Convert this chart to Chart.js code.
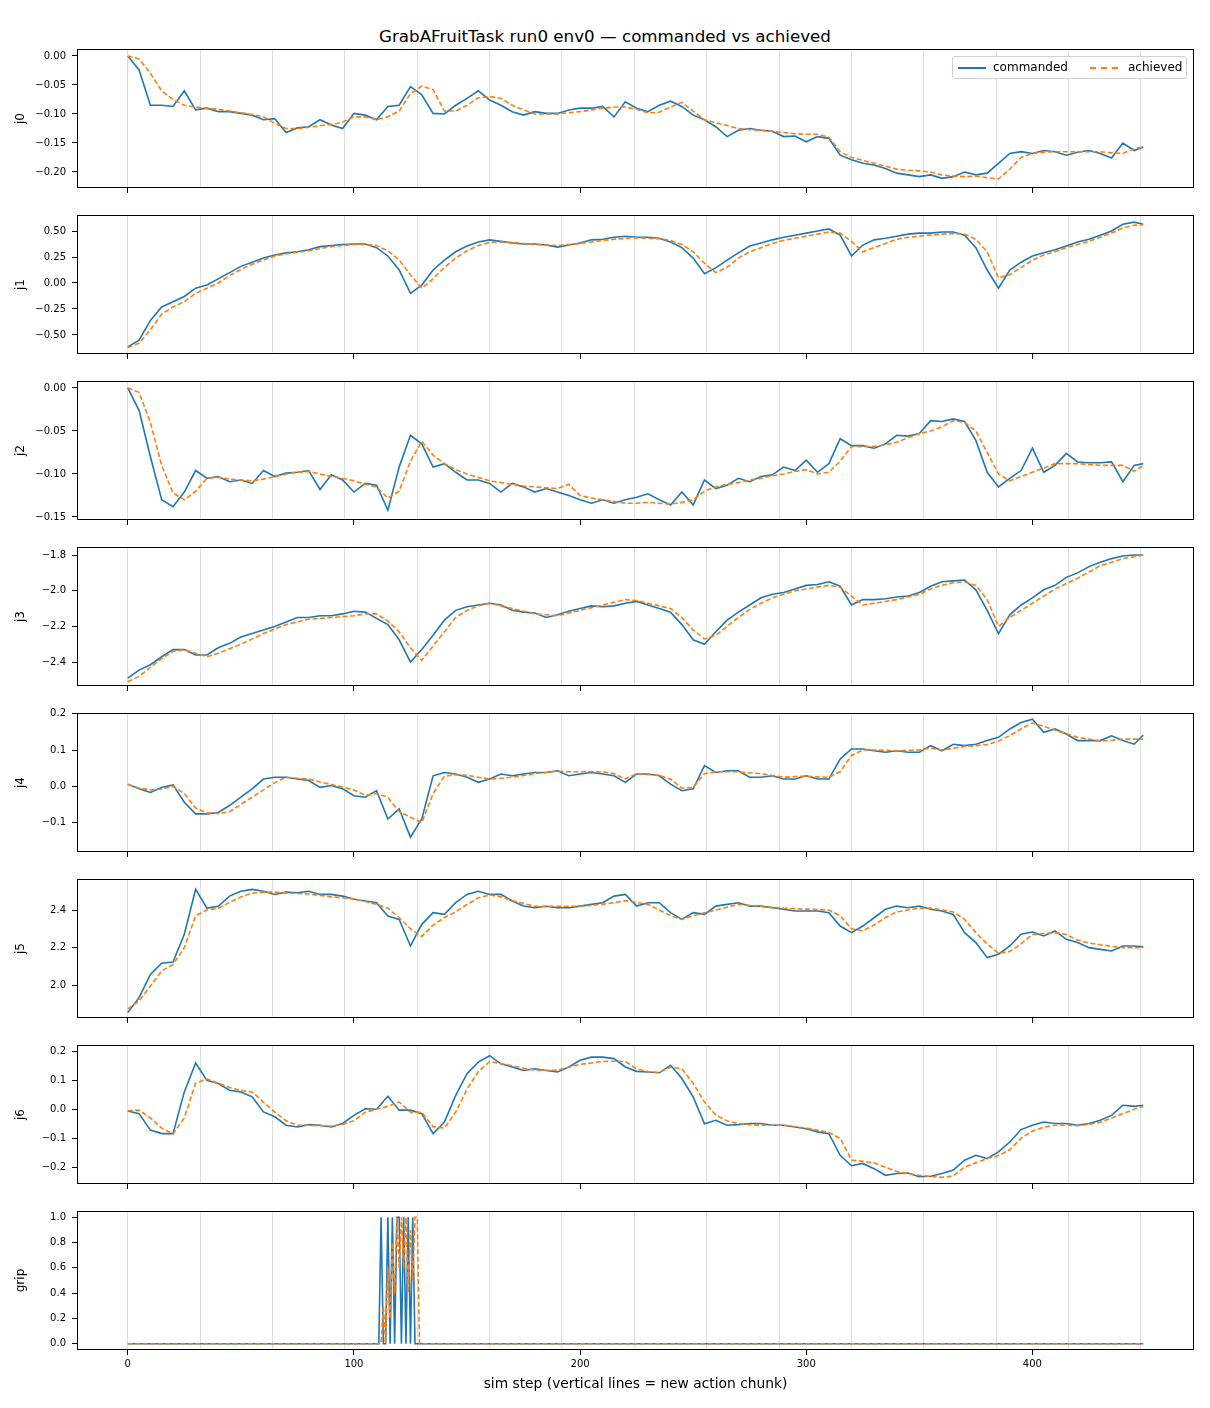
<!DOCTYPE html>
<html>
<head>
<meta charset="utf-8">
<script src="https://cdn.jsdelivr.net/npm/chart.js@4"></script>
<style>
  body { margin: 0; background: #fff; font-family: "DejaVu Sans", sans-serif; }
  #wrap { position: relative; width: 1210px; height: 1408px; }
  canvas { position: absolute; left: 0; }
  #title { position: absolute; top: 26px; left: 0; width: 1210px; text-align: center; font-size: 16.7px; color: #000; }
  #legend { position: absolute; left: 952px; top: 56px; width: 233px; height: 21px; border: 1px solid #d0d0d0; border-radius: 3px; background: rgba(255,255,255,0.85); font-size: 12px; }
  .item { position: absolute; top: 3px; }
  .sw { position: absolute; top: 10px; width: 28px; height: 0; }
</style>
</head>
<body>
<div id="wrap">
  <div id="title">GrabAFruitTask run0 env0 — commanded vs achieved</div>
</div>
<script>
// sim steps sampled for the joint traces
const steps = [0,5,10,15,20,25,30,35,40,45,50,55,60,65,70,75,80,85,90,95,100,105,110,115,120,125,130,135,140,145,150,155,160,165,170,175,180,185,190,195,200,205,210,215,220,225,230,235,240,245,250,255,260,265,270,275,280,285,290,295,300,305,310,315,320,325,330,335,340,345,350,355,360,365,370,375,380,385,390,395,400,405,410,415,420,425,430,435,440,445,449];
const chunkStarts = [0,32,64,96,128,160,192,224,256,288,320,352,384,416,448];
const xTickValues = [0,100,200,300,400];

const j0Cmd = [0.000,-0.024,-0.085,-0.085,-0.087,-0.060,-0.093,-0.090,-0.096,-0.096,
  -0.099,-0.102,-0.110,-0.108,-0.132,-0.124,-0.122,-0.110,-0.119,-0.125,
  -0.099,-0.102,-0.110,-0.087,-0.085,-0.053,-0.067,-0.099,-0.100,-0.085,
  -0.073,-0.060,-0.076,-0.085,-0.096,-0.102,-0.096,-0.099,-0.099,-0.093,
  -0.090,-0.090,-0.087,-0.105,-0.079,-0.090,-0.096,-0.085,-0.078,-0.087,
  -0.102,-0.110,-0.122,-0.139,-0.128,-0.125,-0.128,-0.130,-0.139,-0.138,
  -0.148,-0.139,-0.142,-0.171,-0.179,-0.185,-0.188,-0.194,-0.202,-0.205,
  -0.208,-0.205,-0.211,-0.208,-0.200,-0.205,-0.202,-0.185,-0.168,-0.165,
  -0.168,-0.163,-0.165,-0.171,-0.166,-0.163,-0.168,-0.176,-0.150,-0.163,-0.157];
const j0Ach = [0.000,-0.005,-0.030,-0.060,-0.075,-0.085,-0.088,-0.090,-0.092,-0.095,
  -0.098,-0.101,-0.105,-0.116,-0.125,-0.125,-0.123,-0.120,-0.118,-0.114,
  -0.105,-0.105,-0.110,-0.105,-0.095,-0.065,-0.052,-0.058,-0.095,-0.095,
  -0.085,-0.072,-0.070,-0.073,-0.085,-0.093,-0.100,-0.100,-0.100,-0.098,
  -0.096,-0.093,-0.090,-0.088,-0.088,-0.092,-0.098,-0.097,-0.088,-0.080,
  -0.095,-0.110,-0.115,-0.120,-0.125,-0.127,-0.128,-0.130,-0.132,-0.134,
  -0.135,-0.135,-0.140,-0.165,-0.175,-0.180,-0.185,-0.190,-0.195,-0.197,
  -0.198,-0.200,-0.205,-0.207,-0.208,-0.207,-0.210,-0.212,-0.195,-0.175,
  -0.168,-0.166,-0.165,-0.165,-0.165,-0.165,-0.165,-0.167,-0.168,-0.160,-0.157];

const j1Cmd = [-0.615,-0.550,-0.360,-0.230,-0.180,-0.130,-0.050,-0.020,0.040,0.100,
  0.160,0.200,0.240,0.270,0.290,0.300,0.320,0.350,0.360,0.370,
  0.375,0.375,0.340,0.260,0.125,-0.100,-0.020,0.125,0.220,0.300,
  0.355,0.395,0.415,0.400,0.385,0.375,0.375,0.365,0.345,0.365,
  0.385,0.415,0.420,0.440,0.450,0.440,0.440,0.430,0.395,0.340,
  0.240,0.090,0.145,0.220,0.290,0.355,0.385,0.415,0.440,0.460,
  0.480,0.500,0.520,0.460,0.260,0.365,0.415,0.430,0.450,0.470,
  0.480,0.480,0.490,0.490,0.460,0.340,0.125,-0.050,0.125,0.200,
  0.260,0.290,0.320,0.355,0.395,0.420,0.460,0.500,0.565,0.585,0.565];
const j1Ach = [-0.620,-0.580,-0.450,-0.300,-0.230,-0.180,-0.100,-0.050,0.000,0.070,
  0.130,0.180,0.220,0.260,0.280,0.295,0.310,0.330,0.350,0.360,
  0.370,0.370,0.360,0.310,0.220,0.080,-0.050,0.040,0.150,0.240,
  0.310,0.360,0.390,0.395,0.390,0.380,0.370,0.365,0.360,0.370,
  0.380,0.395,0.410,0.420,0.430,0.435,0.430,0.425,0.410,0.370,
  0.300,0.190,0.100,0.150,0.240,0.300,0.340,0.380,0.410,0.430,
  0.450,0.470,0.490,0.480,0.400,0.300,0.340,0.380,0.420,0.440,
  0.450,0.460,0.470,0.475,0.470,0.420,0.300,0.050,0.080,0.150,
  0.220,0.270,0.300,0.340,0.370,0.400,0.440,0.480,0.530,0.555,0.560];

const j2Cmd = [0.000,-0.026,-0.080,-0.130,-0.138,-0.121,-0.096,-0.105,-0.103,-0.109,
  -0.107,-0.111,-0.096,-0.103,-0.099,-0.098,-0.096,-0.118,-0.101,-0.107,
  -0.121,-0.111,-0.113,-0.142,-0.092,-0.055,-0.065,-0.092,-0.088,-0.098,
  -0.107,-0.107,-0.111,-0.121,-0.111,-0.115,-0.121,-0.117,-0.121,-0.125,
  -0.130,-0.134,-0.130,-0.134,-0.130,-0.127,-0.123,-0.130,-0.136,-0.121,
  -0.136,-0.107,-0.117,-0.113,-0.105,-0.109,-0.103,-0.101,-0.092,-0.096,
  -0.084,-0.098,-0.088,-0.059,-0.067,-0.067,-0.070,-0.065,-0.055,-0.056,
  -0.053,-0.038,-0.039,-0.036,-0.039,-0.061,-0.098,-0.115,-0.105,-0.096,
  -0.070,-0.098,-0.090,-0.076,-0.086,-0.087,-0.087,-0.086,-0.109,-0.090,-0.088];
const j2Ach = [0.000,-0.005,-0.040,-0.090,-0.122,-0.130,-0.120,-0.105,-0.104,-0.106,
  -0.107,-0.108,-0.106,-0.103,-0.100,-0.098,-0.097,-0.100,-0.103,-0.105,
  -0.108,-0.112,-0.115,-0.128,-0.120,-0.085,-0.062,-0.078,-0.088,-0.095,
  -0.100,-0.104,-0.108,-0.110,-0.112,-0.114,-0.115,-0.116,-0.117,-0.112,
  -0.125,-0.128,-0.130,-0.132,-0.134,-0.134,-0.133,-0.134,-0.135,-0.133,
  -0.130,-0.120,-0.115,-0.112,-0.110,-0.107,-0.105,-0.102,-0.100,-0.097,
  -0.095,-0.100,-0.098,-0.085,-0.068,-0.068,-0.068,-0.066,-0.063,-0.058,
  -0.053,-0.050,-0.045,-0.038,-0.040,-0.050,-0.075,-0.100,-0.108,-0.103,
  -0.098,-0.093,-0.088,-0.088,-0.088,-0.089,-0.090,-0.090,-0.090,-0.097,-0.090];

const j3Cmd = [-2.490,-2.445,-2.415,-2.370,-2.330,-2.330,-2.360,-2.360,-2.320,-2.295,
  -2.260,-2.240,-2.220,-2.200,-2.175,-2.150,-2.150,-2.140,-2.140,-2.130,
  -2.115,-2.120,-2.155,-2.190,-2.275,-2.400,-2.330,-2.250,-2.165,-2.110,
  -2.090,-2.080,-2.070,-2.080,-2.110,-2.120,-2.125,-2.150,-2.135,-2.115,
  -2.100,-2.085,-2.090,-2.085,-2.070,-2.060,-2.080,-2.100,-2.120,-2.190,
  -2.275,-2.300,-2.230,-2.165,-2.120,-2.080,-2.040,-2.020,-2.010,-1.990,
  -1.970,-1.965,-1.950,-1.975,-2.080,-2.050,-2.050,-2.045,-2.035,-2.030,
  -2.010,-1.975,-1.950,-1.945,-1.940,-1.995,-2.110,-2.240,-2.135,-2.080,
  -2.040,-1.995,-1.970,-1.925,-1.900,-1.865,-1.840,-1.820,-1.805,-1.800,-1.800];
const j3Ach = [-2.510,-2.480,-2.430,-2.380,-2.340,-2.330,-2.350,-2.370,-2.350,-2.325,
  -2.300,-2.270,-2.240,-2.215,-2.190,-2.175,-2.160,-2.155,-2.150,-2.145,
  -2.140,-2.130,-2.130,-2.170,-2.230,-2.320,-2.390,-2.310,-2.230,-2.150,
  -2.110,-2.085,-2.070,-2.085,-2.100,-2.115,-2.130,-2.135,-2.140,-2.125,
  -2.110,-2.095,-2.080,-2.065,-2.050,-2.055,-2.070,-2.085,-2.100,-2.150,
  -2.220,-2.270,-2.250,-2.200,-2.150,-2.105,-2.070,-2.040,-2.020,-2.000,
  -1.990,-1.980,-1.970,-1.980,-2.030,-2.080,-2.070,-2.060,-2.050,-2.035,
  -2.020,-1.990,-1.970,-1.955,-1.950,-1.970,-2.050,-2.200,-2.150,-2.110,
  -2.070,-2.030,-1.990,-1.960,-1.930,-1.895,-1.860,-1.840,-1.820,-1.810,-1.800];

const j4Cmd = [0.006,-0.007,-0.017,-0.003,0.004,-0.044,-0.076,-0.076,-0.072,-0.053,
  -0.030,-0.007,0.020,0.025,0.025,0.020,0.016,-0.003,0.002,-0.007,
  -0.026,-0.030,-0.012,-0.090,-0.062,-0.140,-0.090,0.029,0.038,0.034,
  0.025,0.011,0.020,0.034,0.029,0.034,0.038,0.038,0.043,0.029,
  0.034,0.038,0.034,0.029,0.011,0.034,0.034,0.029,0.006,-0.012,
  -0.007,0.057,0.038,0.043,0.043,0.025,0.025,0.029,0.020,0.020,
  0.029,0.020,0.020,0.075,0.103,0.103,0.098,0.094,0.098,0.094,
  0.094,0.112,0.098,0.116,0.112,0.116,0.126,0.135,0.158,0.176,
  0.185,0.149,0.158,0.144,0.126,0.126,0.126,0.139,0.126,0.116,0.141];
const j4Ach = [0.005,-0.005,-0.010,-0.008,0.000,-0.020,-0.060,-0.073,-0.075,-0.070,
  -0.050,-0.030,-0.010,0.010,0.025,0.022,0.020,0.012,0.005,-0.002,
  -0.010,-0.025,-0.020,-0.030,-0.070,-0.085,-0.100,-0.020,0.028,0.032,
  0.030,0.025,0.020,0.022,0.025,0.030,0.035,0.038,0.042,0.040,
  0.040,0.040,0.040,0.035,0.020,0.035,0.033,0.030,0.020,-0.005,
  -0.003,0.035,0.040,0.040,0.040,0.037,0.035,0.030,0.025,0.027,
  0.028,0.026,0.025,0.040,0.085,0.100,0.100,0.099,0.098,0.099,
  0.100,0.105,0.100,0.105,0.110,0.112,0.115,0.125,0.140,0.158,
  0.175,0.165,0.155,0.145,0.135,0.130,0.125,0.127,0.130,0.130,0.130];

const j5Cmd = [1.855,1.934,2.058,2.117,2.124,2.271,2.510,2.410,2.420,2.474,
  2.500,2.510,2.500,2.483,2.495,2.492,2.500,2.483,2.483,2.474,
  2.457,2.448,2.439,2.368,2.350,2.209,2.324,2.386,2.377,2.439,
  2.483,2.500,2.483,2.483,2.448,2.421,2.412,2.420,2.412,2.412,
  2.421,2.430,2.439,2.474,2.483,2.421,2.439,2.439,2.386,2.350,
  2.386,2.377,2.421,2.430,2.439,2.421,2.421,2.412,2.404,2.395,
  2.395,2.395,2.386,2.315,2.280,2.315,2.359,2.404,2.421,2.412,
  2.421,2.404,2.395,2.377,2.280,2.227,2.147,2.165,2.209,2.271,
  2.283,2.262,2.289,2.244,2.227,2.200,2.191,2.182,2.209,2.209,2.204];
const j5Ach = [1.875,1.917,1.996,2.076,2.110,2.200,2.370,2.400,2.410,2.440,
  2.470,2.490,2.495,2.495,2.490,2.488,2.485,2.478,2.470,2.465,
  2.460,2.445,2.430,2.410,2.360,2.300,2.260,2.320,2.360,2.390,
  2.430,2.465,2.480,2.470,2.450,2.435,2.420,2.420,2.420,2.420,
  2.420,2.425,2.430,2.440,2.450,2.440,2.430,2.400,2.370,2.350,
  2.370,2.385,2.400,2.415,2.430,2.425,2.420,2.415,2.410,2.407,
  2.405,2.402,2.400,2.370,2.300,2.290,2.320,2.360,2.390,2.400,
  2.410,2.410,2.400,2.390,2.350,2.280,2.220,2.170,2.180,2.220,
  2.270,2.275,2.280,2.270,2.240,2.225,2.215,2.207,2.200,2.200,2.200];

const j6Cmd = [-0.006,-0.015,-0.072,-0.084,-0.084,0.060,0.160,0.100,0.089,0.066,
  0.060,0.043,-0.009,-0.026,-0.055,-0.061,-0.053,-0.055,-0.061,-0.049,
  -0.021,0.002,0.000,0.045,-0.003,-0.003,-0.015,-0.084,-0.044,0.048,
  0.123,0.163,0.185,0.157,0.146,0.134,0.140,0.134,0.129,0.146,
  0.169,0.180,0.180,0.175,0.146,0.131,0.129,0.126,0.152,0.106,
  0.043,-0.050,-0.038,-0.055,-0.053,-0.049,-0.049,-0.055,-0.055,-0.061,
  -0.067,-0.078,-0.084,-0.159,-0.195,-0.187,-0.205,-0.228,-0.222,-0.220,
  -0.233,-0.231,-0.222,-0.210,-0.176,-0.159,-0.170,-0.147,-0.113,-0.070,
  -0.055,-0.044,-0.049,-0.049,-0.055,-0.049,-0.038,-0.021,0.014,0.010,0.014];
const j6Ach = [-0.005,-0.003,-0.030,-0.065,-0.085,-0.030,0.090,0.105,0.090,0.075,
  0.065,0.060,0.025,-0.010,-0.040,-0.055,-0.055,-0.057,-0.058,-0.052,
  -0.040,-0.010,0.000,0.010,0.025,-0.010,-0.010,-0.060,-0.065,-0.010,
  0.070,0.130,0.165,0.158,0.150,0.142,0.135,0.135,0.135,0.145,
  0.155,0.160,0.165,0.166,0.165,0.140,0.130,0.127,0.145,0.140,
  0.090,0.025,-0.020,-0.040,-0.050,-0.053,-0.055,-0.055,-0.055,-0.060,
  -0.065,-0.072,-0.080,-0.100,-0.175,-0.180,-0.185,-0.200,-0.215,-0.222,
  -0.228,-0.232,-0.235,-0.230,-0.200,-0.185,-0.170,-0.160,-0.140,-0.100,
  -0.075,-0.062,-0.055,-0.055,-0.057,-0.052,-0.045,-0.030,-0.015,0.000,0.010];

// gripper: flat at 0 except the burst around step 112-128
const gripSteps = [0,111,112,113,114,115,116,117,118,119,120,121,122,123,124,125,126,127,128,129,449];
const gripCmd = [0,0,1,0,0,1,0,1,0,1,1,0,1,0,1,0,1,0,0,0,0];
const gripAch = [0,0,0,0.3,0,0.6,0.2,0.8,0.4,1,0.6,1,0.6,1,0.4,0.9,0.5,1,1,0,0];

const j0Ticks = [0, -0.05, -0.10, -0.15, -0.20];
const j1Ticks = [0.5, 0.25, 0, -0.25, -0.5];
const j2Ticks = [0, -0.05, -0.10, -0.15];
const j3Ticks = [-1.8, -2.0, -2.2, -2.4];
const j4Ticks = [0.2, 0.1, 0, -0.1];
const j5Ticks = [2.4, 2.2, 2.0];
const j6Ticks = [0.2, 0.1, 0, -0.1, -0.2];
const gripTicks = [0, 0.2, 0.4, 0.6, 0.8, 1.0];

const BLUE = '#1f77b4';
const ORANGE = '#ff7f0e';
const FONT = "'DejaVu Sans', sans-serif";

const panels = [
  { label: 'j0', xs: steps, cmd: j0Cmd, ach: j0Ach, min: -0.2276, max: 0.012, ticks: j0Ticks, dec: 2 },
  { label: 'j1', xs: steps, cmd: j1Cmd, ach: j1Ach, min: -0.683, max: 0.654, ticks: j1Ticks, dec: 2 },
  { label: 'j2', xs: steps, cmd: j2Cmd, ach: j2Ach, min: -0.1535, max: 0.0081, ticks: j2Ticks, dec: 2 },
  { label: 'j3', xs: steps, cmd: j3Cmd, ach: j3Ach, min: -2.534, max: -1.755, ticks: j3Ticks, dec: 1 },
  { label: 'j4', xs: steps, cmd: j4Cmd, ach: j4Ach, min: -0.181, max: 0.202, ticks: j4Ticks, dec: 1 },
  { label: 'j5', xs: steps, cmd: j5Cmd, ach: j5Ach, min: 1.826, max: 2.565, ticks: j5Ticks, dec: 1 },
  { label: 'j6', xs: steps, cmd: j6Cmd, ach: j6Ach, min: -0.258, max: 0.222, ticks: j6Ticks, dec: 1 },
  { label: 'grip', xs: gripSteps, cmd: gripCmd, ach: gripAch, min: -0.05, max: 1.05, ticks: gripTicks, dec: 1 }
];

const frame = {
  id: 'frame',
  afterDraw(chart) {
    const a = chart.chartArea, c = chart.ctx;
    c.save();
    c.strokeStyle = '#000';
    c.lineWidth = 1;
    c.strokeRect(Math.round(a.left) + 0.5, Math.round(a.top) + 0.5, Math.round(a.right - a.left) - 1, Math.round(a.bottom - a.top) - 1);
    c.restore();
  }
};

const fmt = (v, d) => (v < 0 ? '\u2212' : '') + Math.abs(v).toFixed(d);

// keep every axis from reserving room for label overhang
const noPad = s => { s.paddingTop = 0; s.paddingBottom = 0; s.paddingLeft = 0; s.paddingRight = 0; };

const wrap = document.getElementById('wrap');
panels.forEach((p, i) => {
  const last = i === panels.length - 1;
  const top = 49 + 166 * i - 8;
  const bottomH = last ? 59 : 10;
  const h = 8 + 139 + bottomH;
  const cv = document.createElement('canvas');
  cv.width = 1210; cv.height = h;
  cv.style.top = top + 'px';
  cv.style.width = '1210px'; cv.style.height = h + 'px';
  wrap.appendChild(cv);

  new Chart(cv.getContext('2d'), {
    type: 'line',
    data: {
      datasets: [
        { label: 'commanded', data: p.xs.map((x, k) => ({ x: x, y: p.cmd[k] })), borderColor: BLUE, borderWidth: 1.6, pointRadius: 0, order: 2 },
        { label: 'achieved', data: p.xs.map((x, k) => ({ x: x, y: p.ach[k] })), borderColor: ORANGE, borderWidth: 1.6, borderDash: [5, 2.5], pointRadius: 0, order: 1 }
      ]
    },
    options: {
      responsive: false,
      animation: false,
      devicePixelRatio: 1,
      layout: { padding: { top: 8, right: 16, left: 0, bottom: 0 } },
      plugins: { legend: { display: false }, tooltip: { enabled: false } },
      scales: {
        x: {
          type: 'linear', min: -22.45, max: 471.45,
          afterBuildTicks: s => { s.ticks = xTickValues.map(v => ({ value: v })); },
          afterFit: s => { s.height = bottomH; noPad(s); },
          border: { display: false },
          grid: { drawOnChartArea: false, drawTicks: true, tickLength: 5, color: '#000' },
          ticks: { display: last, padding: 3, color: '#000', font: { family: FONT, size: 10 }, maxRotation: 0 },
          title: { display: last, text: 'sim step (vertical lines = new action chunk)', color: '#000', font: { family: FONT, size: 13.8 }, padding: { top: 0, bottom: 16 } }
        },
        x2: {
          type: 'linear', position: 'top', min: -22.45, max: 471.45,
          afterBuildTicks: s => { s.ticks = chunkStarts.map(v => ({ value: v })); },
          afterFit: s => { s.height = 0; noPad(s); },
          border: { display: false },
          grid: { drawTicks: false, color: 'rgba(0,0,0,0.13)', lineWidth: 1 },
          ticks: { display: false }
        },
        y: {
          min: p.min, max: p.max,
          afterBuildTicks: s => { s.ticks = p.ticks.map(v => ({ value: v })); },
          afterFit: s => { s.width = 77; noPad(s); },
          border: { display: false },
          grid: { drawOnChartArea: false, drawTicks: true, tickLength: 5, color: '#000' },
          ticks: { padding: 6, color: '#000', font: { family: FONT, size: 10 }, callback: v => fmt(v, p.dec) },
          title: { display: true, text: p.label, color: '#000', font: { family: FONT, size: 12 }, padding: { top: 14, bottom: 0 } }
        }
      }
    },
    plugins: [frame]
  });
});

// legend box inside the first panel
const lg = document.createElement('div');
lg.id = 'legend';
lg.innerHTML =
  '<span class="sw" style="left:5px;border-top:2px solid ' + BLUE + '"></span>' +
  '<span class="item" style="left:40px">commanded</span>' +
  '<span class="sw" style="left:137px;border-top:2px dashed ' + ORANGE + '"></span>' +
  '<span class="item" style="left:175px">achieved</span>';
wrap.appendChild(lg);
</script>
</body>
</html>
